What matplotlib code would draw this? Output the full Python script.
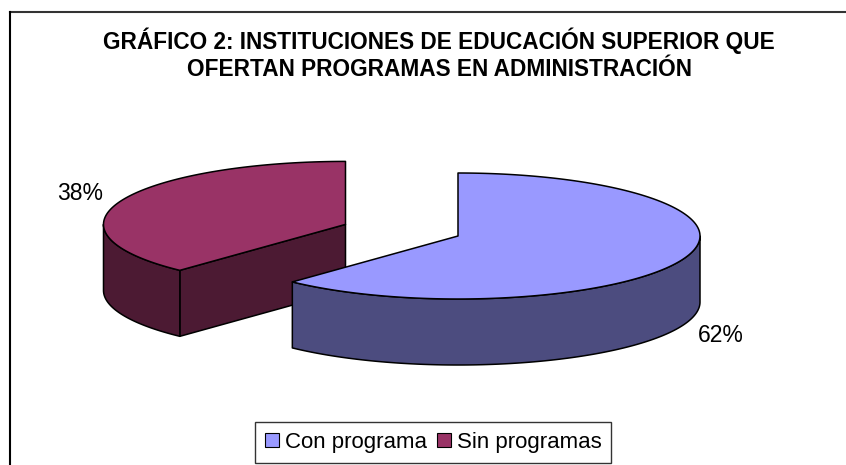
import numpy as np
import matplotlib
matplotlib.use("Agg")
import matplotlib.pyplot as plt
from matplotlib.patches import Polygon, Patch
from matplotlib.lines import Line2D

# ---- data ----
categories = ["Con programa", "Sin programas"]
values = [62, 38]
pct_labels = ["62%", "38%"]
title = "GRÁFICO 2: INSTITUCIONES DE EDUCACIÓN SUPERIOR QUE\nOFERTAN PROGRAMAS EN ADMINISTRACIÓN"

# ---- style ----
top_colors = ["#9999FF", "#993366"]
side_colors = ["#4C4C7F", "#4C1A33"]
explode = [0.0, 0.5]

W, H = 846, 465
fig = plt.figure(figsize=(W / 100, H / 100), dpi=100)
ax = fig.add_axes([0, 0, 1, 1])
ax.set_xlim(0, W)
ax.set_ylim(H, 0)
ax.axis("off")

cx0, cy0 = 458, 236   # pie centre (pixels)
a, b = 242, 63        # ellipse semi axes
depth = 66

def pt(cx, cy, th, dz=0.0):
    t = np.radians(th)
    return np.column_stack([cx + a * np.cos(t), cy - b * np.sin(t) + dz])

total = float(sum(values))
start = 90.0
slices = []
for v, e in zip(values, explode):
    span = 360.0 * v / total
    th1, th0 = start, start - span
    mid = (th0 + th1) / 2
    cx = cx0 + e * a * np.cos(np.radians(mid))
    cy = cy0 - e * b * np.sin(np.radians(mid))
    slices.append((th0, th1, mid, cx, cy))
    start = th0

ec = "black"
lw = 1.1
order = [1, 0]
for i in order:
    th0, th1, mid, cx, cy = slices[i]
    lo, hi = th0, th1
    segs = []
    for k in range(-1, 2):
        s0 = max(lo, 180 + 360 * k)
        s1 = min(hi, 360 + 360 * k)
        if s1 > s0:
            segs.append((s0, s1))
    for edge_th, sign in ((th0, -1), (th1, +1)):
        nth = edge_th + sign * 90
        if np.sin(np.radians(nth)) < -1e-6:
            p = pt(cx, cy, edge_th)[0]
            poly = [(cx, cy), (p[0], p[1]), (p[0], p[1] + depth), (cx, cy + depth)]
            ax.add_patch(Polygon(poly, closed=True, fc=side_colors[i], ec=ec, lw=lw, joinstyle="round"))
    for s0, s1 in segs:
        ths = np.linspace(s0, s1, 200)
        top = pt(cx, cy, ths)
        bot = pt(cx, cy, ths[::-1], depth)
        ax.add_patch(Polygon(np.vstack([top, bot]), closed=True, fc=side_colors[i], ec=ec, lw=lw, joinstyle="round"))
    ths = np.linspace(th0, th1, 300)
    arc = pt(cx, cy, ths)
    poly = np.vstack([[[cx, cy]], arc])
    ax.add_patch(Polygon(poly, closed=True, fc=top_colors[i], ec=ec, lw=lw, joinstyle="round"))

# percentage labels
label_pos = [(721, 335), (80, 193)]
for lab, (x, y) in zip(pct_labels, label_pos):
    ax.text(x, y, lab, ha="center", va="center", fontsize=16.5, family="Liberation Sans")

# title
fig.text(439 / W, 1 - 54 / H, title, ha="center", va="center", fontsize=16.3,
         fontweight="bold", family="Liberation Sans", linespacing=1.25)

# outer frame (top and left edges visible)
ax.add_line(Line2D([10, W], [12, 12], color="#333333", lw=1.5))
ax.add_line(Line2D([10, 10], [12, H], color="black", lw=1.5))

handles = [Patch(fc=c, ec="black", lw=0.8) for c in top_colors]
leg = fig.legend(handles, categories, loc="center", bbox_to_anchor=(433 / W, 1 - 442.5 / H),
                 ncol=2, frameon=True, fancybox=False, shadow=False,
                 handlelength=0.63, handleheight=0.63, handletextpad=0.27, columnspacing=0.45,
                 borderpad=0.45, prop={"family": "Liberation Sans", "size": 16})
leg.get_frame().set_edgecolor("black")
leg.get_frame().set_linewidth(1.0)

fig.savefig("out.png", dpi=100, facecolor="white")
